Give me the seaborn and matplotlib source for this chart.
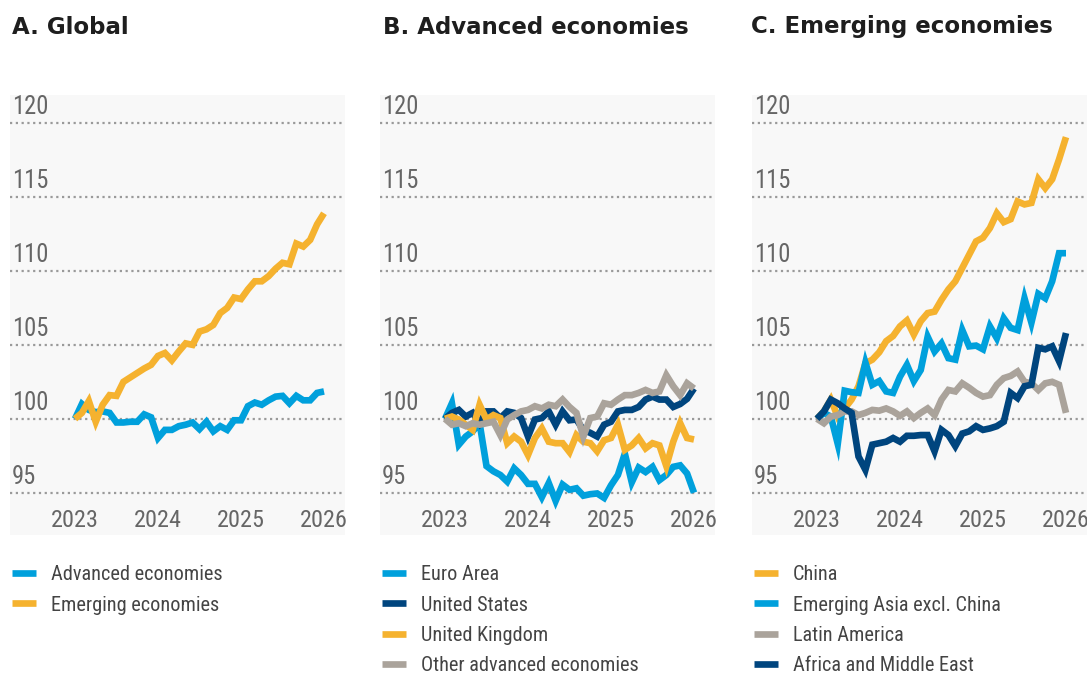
import os
import numpy as np
import pandas as pd
import matplotlib
matplotlib.use("Agg")
import matplotlib.pyplot as plt
import matplotlib.transforms as mtransforms
from matplotlib import font_manager as fm
from matplotlib.textpath import TextPath
import seaborn as sns

sns.set_theme(style="white")
plt.rcParams["font.family"] = ["DejaVu Sans"]

# ---------------- data ----------------
months = pd.date_range("2023-01-01", "2026-01-01", freq="MS")
year_ticks = [2023, 2024, 2025, 2026]
y_ticks = [95, 100, 105, 110, 115, 120]

titles = ["A. Global", "B. Advanced economies", "C. Emerging economies"]

# Panel A
advanced = [100.0, 101.0, 100.6, 100.45, 100.5, 100.4, 99.75, 99.75, 99.8, 99.8, 100.3, 100.1,
            98.7, 99.25, 99.25, 99.5, 99.6, 99.75, 99.3, 99.8, 99.15, 99.5, 99.25, 99.9,
            99.9, 100.85, 101.1, 100.95, 101.25, 101.5, 101.55, 101.05, 101.55, 101.25, 101.25, 101.75,
            101.85]
emerging = [100.0, 100.4, 101.2, 99.8, 100.95, 101.6, 101.55, 102.5, 102.8, 103.1, 103.4, 103.65,
            104.25, 104.45, 103.95, 104.55, 105.1, 105.0, 105.9, 106.05, 106.35, 107.15, 107.5, 108.2,
            108.1, 108.75, 109.3, 109.3, 109.65, 110.15, 110.55, 110.45, 111.85, 111.65, 112.1, 113.15,
            113.9]

# Panel B
euro_area = [100.0, 101.05, 98.25, 98.8, 99.15, 99.7, 96.8, 96.45, 96.2, 95.75, 96.65, 96.2,
             95.6, 95.6, 94.7, 95.65, 94.45, 95.55, 95.2, 95.3, 94.8, 94.9, 94.95, 94.65,
             95.5, 96.2, 97.65, 95.7, 96.7, 96.4, 96.75, 95.85, 96.2, 96.75, 96.85, 96.3,
             95.0]
united_states = [100.0, 100.4, 100.6, 100.15, 100.4, 99.7, 100.5, 100.5, 100.05, 100.5, 100.4, 100.05,
                 98.8, 99.95, 100.05, 100.5, 99.6, 100.5, 99.9, 99.95, 99.25, 99.05, 98.8, 99.6,
                 99.8, 100.5, 100.6, 100.6, 100.8, 101.3, 101.5, 101.3, 101.3, 100.8, 101.0, 101.35,
                 102.05]
united_kingdom = [100.0, 100.15, 99.95, 99.6, 99.25, 100.95, 99.95, 100.25, 100.05, 98.35, 98.8, 98.45,
                  97.55, 98.7, 99.35, 98.45, 98.35, 98.35, 97.75, 98.9, 98.45, 98.35, 97.8, 98.55,
                  98.7, 99.6, 97.9, 98.2, 98.7, 98.0, 98.35, 98.2, 96.8, 98.45, 99.7, 98.7,
                  98.6]
other_advanced = [100.0, 99.6, 99.7, 99.5, 99.7, 99.6, 99.7, 99.8, 98.9, 99.95, 100.25, 100.5,
                  100.6, 100.85, 100.7, 100.95, 100.85, 101.3, 100.8, 100.4, 98.8, 100.05, 100.15, 101.05,
                  100.95, 101.3, 101.6, 101.6, 101.75, 101.95, 101.75, 101.85, 102.95, 102.2, 101.6, 102.4,
                  102.05]

# Panel C
china = [100.0, 100.5, 101.3, 100.15, 100.7, 101.3, 102.2, 103.75, 104.0, 104.5, 105.25, 105.6,
         106.25, 106.65, 105.7, 106.6, 107.15, 107.25, 108.05, 108.75, 109.3, 110.2, 111.1, 112.0,
         112.25, 112.9, 113.9, 113.3, 113.5, 114.7, 114.5, 114.6, 116.2, 115.6, 116.2, 117.55,
         119.05]
emerging_asia = [100.0, 100.4, 100.15, 98.3, 101.9, 101.8, 101.75, 103.8, 102.3, 102.55, 101.85, 101.75,
                 102.85, 103.65, 102.55, 103.3, 105.55, 104.55, 105.1, 104.1, 104.0, 106.0, 104.9, 104.95,
                 104.7, 106.25, 105.45, 106.8, 106.15, 106.0, 108.15, 106.5, 108.45, 108.15, 109.3, 111.2,
                 111.2]
latin_america = [100.0, 99.7, 100.15, 100.25, 100.5, 100.5, 100.25, 100.4, 100.6, 100.55, 100.7, 100.5,
                 100.2, 100.5, 100.05, 100.4, 100.7, 100.25, 101.3, 101.95, 101.85, 102.4, 102.1, 101.75,
                 101.5, 101.6, 102.3, 102.75, 102.9, 103.2, 102.5, 102.4, 101.95, 102.4, 102.5, 102.3,
                 100.4]
africa_me = [100.0, 100.5, 101.3, 101.05, 100.7, 100.4, 97.45, 96.55, 98.25, 98.35, 98.45, 98.7,
             98.45, 98.85, 98.85, 98.9, 98.9, 97.8, 99.25, 98.9, 98.15, 99.0, 99.15, 99.5,
             99.25, 99.35, 99.5, 99.8, 101.75, 101.4, 102.2, 102.3, 104.8, 104.7, 104.9, 103.9,
             105.8]

panels = [
    {"Advanced economies": advanced, "Emerging economies": emerging},
    {"Euro Area": euro_area, "United States": united_states,
     "United Kingdom": united_kingdom, "Other advanced economies": other_advanced},
    {"China": china, "Emerging Asia excl. China": emerging_asia,
     "Latin America": latin_america, "Africa and Middle East": africa_me},
]

LIGHT_BLUE = "#00a0dc"
DARK_BLUE = "#00457e"
ORANGE = "#f5b22f"
GREY = "#aaa39b"
palettes = [
    [LIGHT_BLUE, ORANGE],
    [LIGHT_BLUE, DARK_BLUE, ORANGE, GREY],
    [ORANGE, LIGHT_BLUE, GREY, DARK_BLUE],
]


# ---------------- fonts ----------------
def find_narrow_font():
    bad = ("bold", "italic", "oblique", "light", "thin", "black", "medium", "extra", "ultra",
           "semibold", "heavy", "mono")
    prefer = ["liberation sans narrow", "roboto condensed", "noto sans", "open sans", "arimo"]
    cands = []
    for f in fm.fontManager.ttflist:
        fn = os.path.basename(f.fname).lower()
        nm = f.name.lower()
        txt = fn + " " + nm
        if not ("narrow" in txt or "condensed" in txt):
            continue
        if any(b in fn for b in bad) or f.style != "normal":
            continue
        rank = 50 if "semi" in txt else 0
        for i, p in enumerate(prefer):
            if nm.startswith(p):
                rank += i
                break
        else:
            rank += 20
        cands.append((rank, f.fname))
    if cands:
        cands.sort()
        return cands[0][1]
    for fam in ["Roboto", "Liberation Sans", "DejaVu Sans"]:
        try:
            return fm.findfont(fm.FontProperties(family=fam), fallback_to_default=False)
        except Exception:
            continue
    return fm.findfont("DejaVu Sans")


NARROW = find_narrow_font()


def fitted_props(sample, target_px, max_pt):
    w100 = TextPath((0, 0), sample, size=100, prop=fm.FontProperties(fname=NARROW)).get_extents().width
    size = target_px * 72.0 / w100
    size = min(size, max_pt)
    return fm.FontProperties(fname=NARROW, size=size)


fp_legend = fitted_props("Advanced economies", 170, 17)
fp_ytick = fitted_props("120", 33, 18)
fp_year = fitted_props("2023", 45, 18)

# ---------------- layout ----------------
W, H = 1087, 675
fig = plt.figure(figsize=(W / 100, H / 100), dpi=100)
fig.patch.set_facecolor("white")

ax_left_px = [10, 380, 752]
title_x_px = [12, 383, 751]
ax_w_px, ax_top_px, ax_bot_px = 335, 95, 535
px_per_year = 83.0
first_year_offset_px = 65.0
LW = 4.8

dec_year = months.year + (months.month - 1) / 12.0

for k, (series, pal) in enumerate(zip(panels, palettes)):
    left = ax_left_px[k] / W
    bottom = 1 - ax_bot_px / H
    ax = fig.add_axes([left, bottom, ax_w_px / W, (ax_bot_px - ax_top_px) / H])
    ax.set_facecolor("#f8f8f8")

    names = list(series.keys())
    df = pd.DataFrame({
        "date": np.tile(dec_year, len(names)),
        "value": np.concatenate([series[n] for n in names]),
        "series": np.repeat(names, len(dec_year)),
    })
    sns.lineplot(data=df, x="date", y="value", hue="series", hue_order=names,
                 palette=pal, linewidth=LW, errorbar=None, legend=False, ax=ax,
                 solid_joinstyle="miter", solid_capstyle="butt")

    x0 = 2023 - first_year_offset_px / px_per_year
    ax.set_xlim(x0, x0 + ax_w_px / px_per_year)
    ax.set_ylim(92.14, 121.9)

    for s in ax.spines.values():
        s.set_visible(False)

    for v in y_ticks:
        ax.axhline(v, color="#9a9a9a", linewidth=1.6, linestyle=(0, (1.0, 1.6)), zorder=0.5)
    ax.set_yticks([])
    trans = mtransforms.blended_transform_factory(ax.transAxes, ax.transData)
    for v in y_ticks:
        ax.text(2 / ax_w_px, v + 0.6, str(v), transform=trans, ha="left", va="baseline",
                fontproperties=fp_ytick, color="#666666")

    ax.set_xticks(year_ticks)
    ax.set_xticklabels([str(y) for y in year_ticks], fontproperties=fp_year)
    ax.tick_params(axis="x", length=0, pad=-19, labelcolor="#666666")
    ax.set_xlabel("")
    ax.set_ylabel("")

    leg = ax.legend(ax.lines[:len(names)], names, loc="upper left",
                    bbox_to_anchor=(2 / ax_w_px, -0.069), bbox_transform=ax.transAxes,
                    frameon=False, prop=fp_legend, handlelength=1.2, handletextpad=0.7,
                    labelspacing=0.55, borderpad=0, borderaxespad=0)
    for t in leg.get_texts():
        t.set_color("#444444")
    for h in leg.legend_handles:
        h.set_linewidth(LW)

    fig.text(title_x_px[k] / W, 1 - 27 / H, titles[k], ha="left", va="center",
             fontsize=16.5, fontweight="bold", color="#1e1e1e", family="DejaVu Sans")

fig.savefig("out.png", dpi=100, facecolor="white")
